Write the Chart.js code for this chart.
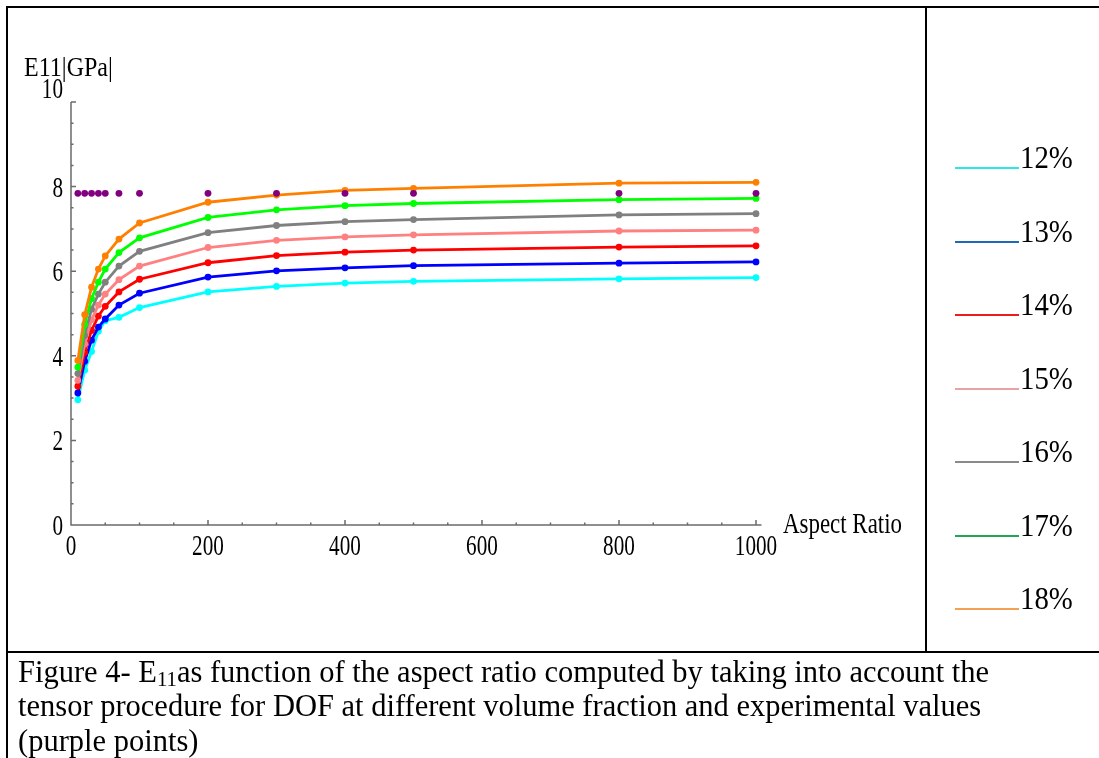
<!DOCTYPE html>
<html>
<head>
<meta charset="utf-8">
<title>E11 vs aspect ratio</title>
<script src="https://cdn.jsdelivr.net/npm/chart.js@4.4.1/dist/chart.umd.min.js"></script>
<style>
  html, body { margin: 0; padding: 0; background: #fff; }
  body {
    width: 1099px; height: 758px; position: relative; overflow: hidden;
    font-family: "Liberation Serif", "Times New Roman", serif; color: #000;
  }
  #chartBox { position: absolute; left: 0; top: 0; width: 1099px; height: 758px; }
  .rule { position: absolute; background: #000; }
  .legend-item { position: absolute; left: 955px; width: 140px; height: 40px; }
  .legend-item .swatch { position: absolute; left: 0; bottom: 0; width: 64px; height: 2px; }
  .legend-item .txt {
    position: absolute; left: 65px; bottom: -4px; font-size: 32px; line-height: 32px;
    transform: scaleX(0.9); transform-origin: left bottom;
  }
  #caption {
    position: absolute; left: 18px; top: 655px; font-size: 30.5px; line-height: 34.4px; white-space: nowrap;
  }
  #caption sub { font-size: 0.68em; vertical-align: -0.18em; line-height: 0; }
</style>
</head>
<body>
<div id="chartBox"><canvas id="myChart" width="1099" height="758"></canvas></div>

<div class="rule" style="left:6px; top:6px; width:1093px; height:2px;"></div>
<div class="rule" style="left:6px; top:6px; width:2px; height:752px;"></div>
<div class="rule" style="left:925px; top:6px; width:2px; height:646px;"></div>
<div class="rule" style="left:6px; top:651px; width:1093px; height:2px;"></div>

<div id="legendBox"></div>

<div id="caption">Figure 4- E<sub>11</sub>as function of the aspect ratio computed by taking into account the<br>tensor procedure for DOF at different volume fraction and experimental values<br>(purple points)</div>

<script>
// aspect ratios used for every curve
var aspectRatio = [10, 20, 30, 40, 50, 70, 100, 200, 300, 400, 500, 800, 1000];

// E11 (GPa) per volume fraction
var vf12 = [2.96, 3.66, 4.10, 4.58, 4.83, 4.91, 5.14, 5.51, 5.64, 5.72, 5.76, 5.82, 5.85];
var vf13 = [3.12, 3.87, 4.37, 4.68, 4.87, 5.20, 5.48, 5.86, 6.01, 6.08, 6.13, 6.19, 6.22];
var vf14 = [3.28, 4.08, 4.60, 4.94, 5.17, 5.51, 5.81, 6.20, 6.37, 6.45, 6.50, 6.57, 6.60];
var vf15 = [3.42, 4.28, 4.85, 5.20, 5.46, 5.80, 6.12, 6.56, 6.73, 6.81, 6.86, 6.95, 6.97];
var vf16 = [3.58, 4.48, 5.10, 5.46, 5.74, 6.12, 6.47, 6.91, 7.08, 7.17, 7.22, 7.33, 7.36];
var vf17 = [3.73, 4.74, 5.35, 5.74, 6.05, 6.44, 6.79, 7.27, 7.45, 7.55, 7.60, 7.69, 7.72];
var vf18 = [3.89, 4.97, 5.62, 6.05, 6.36, 6.76, 7.14, 7.63, 7.80, 7.91, 7.96, 8.08, 8.10];

// experimental values (purple points)
var experimental = [7.84, 7.84, 7.84, 7.84, 7.84, 7.84, 7.84, 7.84, 7.84, 7.84, 7.84, 7.84, 7.84];

var seriesLabels = ['12%', '13%', '14%', '15%', '16%', '17%', '18%'];
var seriesValues = [vf12, vf13, vf14, vf15, vf16, vf17, vf18];
var lineColors = ['#00ffff', '#0000ff', '#ff0000', '#ff8080', '#808080', '#00ff00', '#ff8000'];
var legendColors = ['#2ee6ea', '#1f68b3', '#ee1c1c', '#e6a3a3', '#8a8a8a', '#22a656', '#f5a155'];
var expColor = '#800080';

var xTickLabels = [0, 200, 400, 600, 800, 1000];
var yTickLabels = [0, 2, 4, 6, 8, 10];
var yTitle = 'E11|GPa|';
var xTitle = 'Aspect Ratio';

function toPoints(xs, ys) {
    return xs.map(function (x, i) { return { x: x, y: ys[i] }; });
}

function squeezedText(ctx, text, x, y, align, sx) {
    ctx.save();
    ctx.translate(x, y);
    ctx.scale(sx, 1);
    ctx.textAlign = align;
    ctx.textBaseline = 'alphabetic';
    ctx.fillText(text, 0, 0);
    ctx.restore();
}

// axes with inward ticks, Mathematica style
var axesPlugin = {
    id: 'axesInside',
    beforeDatasetsDraw: function (chart) {
        var ctx = chart.ctx;
        var xs = chart.scales.x;
        var ys = chart.scales.y;
        var x0 = xs.getPixelForValue(0);
        var y0 = ys.getPixelForValue(0);

        ctx.save();
        ctx.strokeStyle = '#6b6b6b';
        ctx.lineWidth = 1.5;
        ctx.beginPath();
        ctx.moveTo(x0, ys.getPixelForValue(10));
        ctx.lineTo(x0, y0);
        ctx.lineTo(xs.getPixelForValue(1008), y0);
        for (var v = 50; v <= 1000; v += 50) {
            var px = xs.getPixelForValue(v);
            ctx.moveTo(px, y0);
            ctx.lineTo(px, y0 - (v % 200 === 0 ? 5 : 2.5));
        }
        for (var w = 0.5; w <= 10; w += 0.5) {
            var py = ys.getPixelForValue(w);
            ctx.moveTo(x0, py);
            ctx.lineTo(x0 + (w % 2 === 0 ? 5 : 2.5), py);
        }
        ctx.stroke();

        ctx.fillStyle = '#000';
        ctx.font = '29px "Liberation Serif"';
        xTickLabels.forEach(function (v) {
            squeezedText(ctx, String(v), xs.getPixelForValue(v), y0 + 30, 'center', 0.73);
        });
        yTickLabels.forEach(function (v) {
            var py = ys.getPixelForValue(v);
            py = v === 10 ? py - 4 : py + 10;
            squeezedText(ctx, String(v), x0 - 8, py, 'right', 0.73);
        });
        ctx.font = '27px "Liberation Serif"';
        squeezedText(ctx, yTitle, x0 - 47, ys.getPixelForValue(10) - 26, 'left', 0.89);
        ctx.font = '29px "Liberation Serif"';
        squeezedText(ctx, xTitle, xs.getPixelForValue(1000) + 27, y0 + 8, 'left', 0.79);
        ctx.restore();
    }
};

var datasets = [{
    label: 'experimental',
    data: toPoints(aspectRatio, experimental),
    showLine: false,
    pointRadius: 3.4,
    pointBackgroundColor: expColor,
    pointBorderWidth: 0,
    clip: false
}];

// 18% first so it ends up on top of the lower curves
for (var i = seriesValues.length - 1; i >= 0; i--) {
    datasets.push({
        label: seriesLabels[i],
        data: toPoints(aspectRatio, seriesValues[i]),
        borderColor: lineColors[i],
        backgroundColor: lineColors[i],
        borderWidth: 2.8,
        pointRadius: 3.4,
        pointBorderWidth: 0,
        pointBackgroundColor: lineColors[i],
        tension: 0,
        clip: false
    });
}

var ctx = document.getElementById('myChart').getContext('2d');
var chart = new Chart(ctx, {
    type: 'line',
    data: { datasets: datasets },
    options: {
        responsive: false,
        animation: false,
        devicePixelRatio: 1,
        layout: { padding: { left: 71, right: 343, top: 102, bottom: 233 } },
        scales: {
            x: { type: 'linear', min: 0, max: 1000, display: false },
            y: { type: 'linear', min: 0, max: 10, display: false }
        },
        plugins: {
            legend: { display: false },
            tooltip: { enabled: false }
        }
    },
    plugins: [axesPlugin]
});

// legend in the right cell
var legendBox = document.getElementById('legendBox');
seriesLabels.forEach(function (label, i) {
    var item = document.createElement('div');
    item.className = 'legend-item';
    item.style.top = (169 + i * 73.5 - 40) + 'px';
    var sw = document.createElement('span');
    sw.className = 'swatch';
    sw.style.background = legendColors[i];
    var txt = document.createElement('span');
    txt.className = 'txt';
    txt.textContent = label;
    item.appendChild(sw);
    item.appendChild(txt);
    legendBox.appendChild(item);
});
</script>
</body>
</html>
